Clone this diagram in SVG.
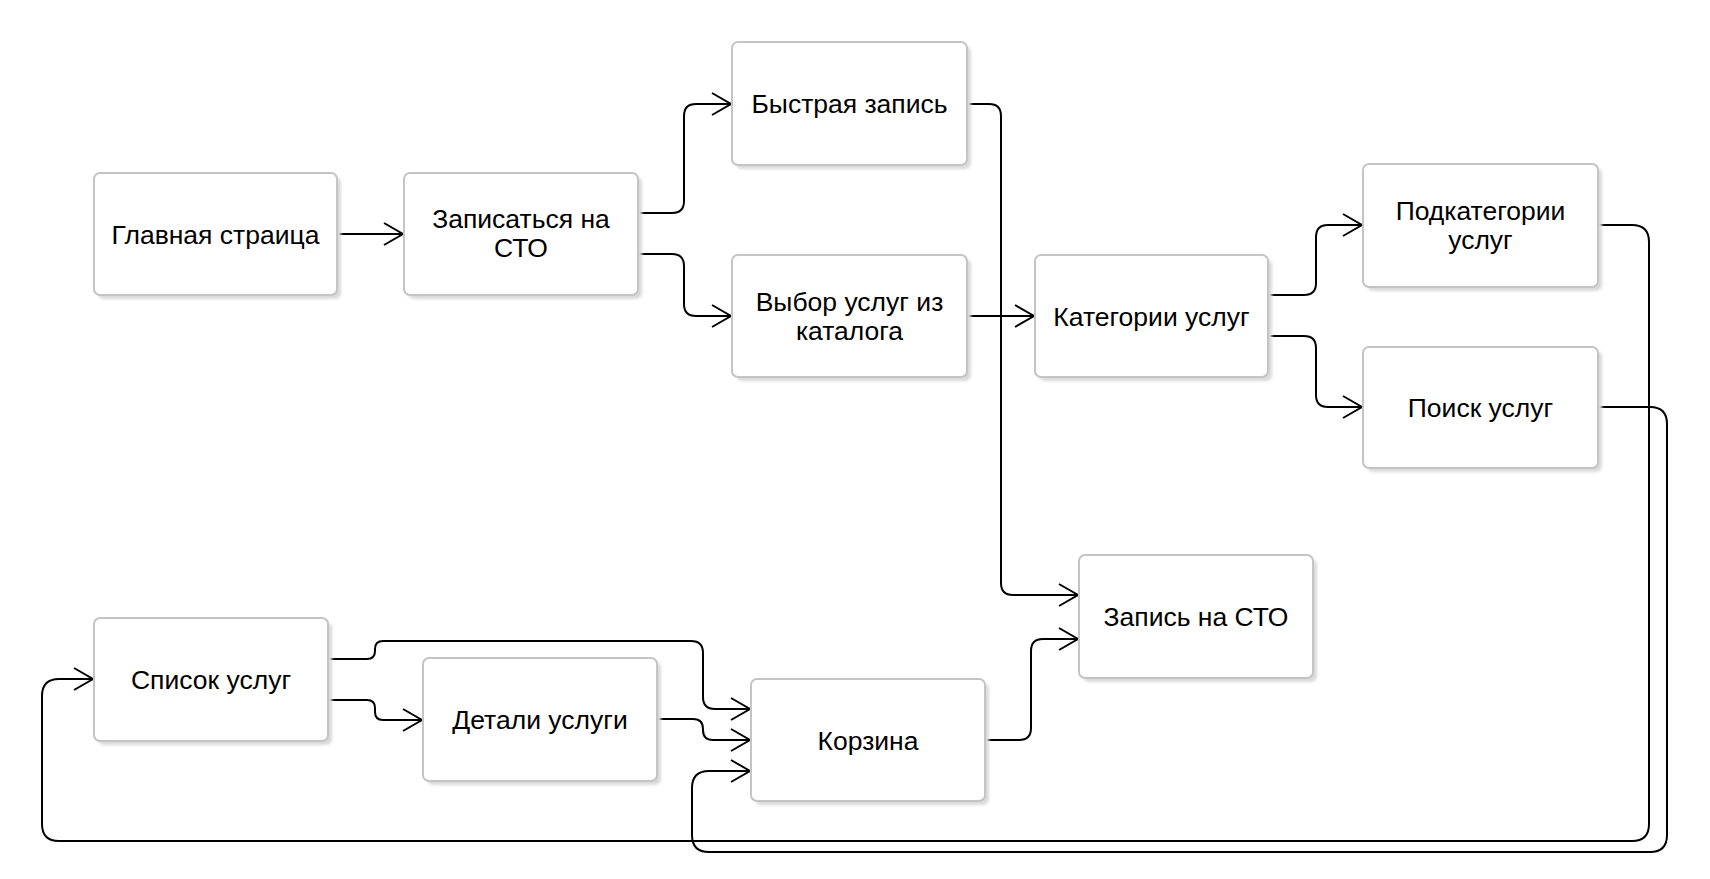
<svg xmlns="http://www.w3.org/2000/svg" width="1710" height="879" viewBox="0 0 1710 879">
<style>
.box{fill:#ffffff;stroke:#c4c4c4;stroke-width:2}
.sh{fill:#d9d9d9;filter:url(#blur)}
.t{font-family:"Liberation Sans",Arial,sans-serif;font-size:26.5px;fill:#000;text-anchor:middle}
.e{fill:none;stroke:#000;stroke-width:2;marker-end:url(#arr)}
</style>
<defs>
<filter id="blur" x="-10%" y="-10%" width="120%" height="120%"><feGaussianBlur stdDeviation="1.5"/></filter>
<marker id="arr" markerUnits="userSpaceOnUse" markerWidth="26" markerHeight="28" viewBox="-2 -2 26 28" refX="19" refY="11" orient="auto">
<path d="M0,0 L19,11 L0,22" fill="none" stroke="#000" stroke-width="2"/>
</marker>
</defs>
<rect width="1710" height="879" fill="#ffffff"/>
<g id="connectors">
<path class="e" d="M337,234 H403"/>
<path class="e" d="M638,213 H672 Q684,213 684,201 V116 Q684,104 696,104 H731"/>
<path class="e" d="M638,254 H672 Q684,254 684,266 V304 Q684,316 696,316 H731"/>
<path class="e" d="M967,316 H1034"/>
<path class="e" d="M967,104 H989 Q1001,104 1001,116 V583 Q1001,595 1013,595 H1078"/>
<path class="e" d="M1268,295 H1304 Q1316,295 1316,283 V237 Q1316,225 1328,225 H1362"/>
<path class="e" d="M1268,336 H1304 Q1316,336 1316,348 V395 Q1316,407 1328,407 H1362"/>
<path class="e" d="M1598,225 H1632 Q1649,225 1649,242 V824 Q1649,841 1632,841 H59 Q42,841 42,824 V696 Q42,679 59,679 H93"/>
<path class="e" d="M1598,407 H1650 Q1667,407 1667,424 V835 Q1667,852 1650,852 H709 Q692,852 692,835 V788 Q692,771 709,771 H750"/>
<path class="e" d="M328,659 H367 Q375,659 375,651 V649 Q375,641 383,641 H691 Q703,641 703,653 V697 Q703,709 715,709 H750"/>
<path class="e" d="M328,700 H367 Q375,700 375,708 V712 Q375,720 383,720 H422"/>
<path class="e" d="M657,719 H693 Q703,719 703,729 V730 Q703,740 713,740 H750"/>
<path class="e" d="M985,740 H1019 Q1031,740 1031,728 V651 Q1031,639 1043,639 H1078"/>
</g>
<g id="n1"><rect class="sh" x="98" y="177" width="243" height="122" rx="6"/><rect class="box" x="94" y="173" width="243" height="122" rx="6"/><text class="t" x="215.5" y="244">Главная страица</text></g>
<g id="n2"><rect class="sh" x="408" y="177" width="234" height="122" rx="6"/><rect class="box" x="404" y="173" width="234" height="122" rx="6"/><text class="t" x="521" y="228">Записаться на</text><text class="t" x="521" y="257">СТО</text></g>
<g id="n3"><rect class="sh" x="736" y="46" width="235" height="123" rx="6"/><rect class="box" x="732" y="42" width="235" height="123" rx="6"/><text class="t" x="849.5" y="113">Быстрая запись</text></g>
<g id="n4"><rect class="sh" x="736" y="259" width="235" height="122" rx="6"/><rect class="box" x="732" y="255" width="235" height="122" rx="6"/><text class="t" x="849.5" y="311">Выбор услуг из</text><text class="t" x="849.5" y="340">каталога</text></g>
<g id="n5"><rect class="sh" x="1039" y="259" width="233" height="122" rx="6"/><rect class="box" x="1035" y="255" width="233" height="122" rx="6"/><text class="t" x="1151.5" y="326">Категории услуг</text></g>
<g id="n6"><rect class="sh" x="1367" y="168" width="235" height="123" rx="6"/><rect class="box" x="1363" y="164" width="235" height="123" rx="6"/><text class="t" x="1480.5" y="220">Подкатегории</text><text class="t" x="1480.5" y="249">услуг</text></g>
<g id="n7"><rect class="sh" x="1367" y="351" width="235" height="121" rx="6"/><rect class="box" x="1363" y="347" width="235" height="121" rx="6"/><text class="t" x="1480.5" y="417">Поиск услуг</text></g>
<g id="n8"><rect class="sh" x="1083" y="559" width="234" height="123" rx="6"/><rect class="box" x="1079" y="555" width="234" height="123" rx="6"/><text class="t" x="1196" y="626">Запись на СТО</text></g>
<g id="n9"><rect class="sh" x="755" y="683" width="234" height="122" rx="6"/><rect class="box" x="751" y="679" width="234" height="122" rx="6"/><text class="t" x="868" y="750">Корзина</text></g>
<g id="n10"><rect class="sh" x="98" y="622" width="234" height="123" rx="6"/><rect class="box" x="94" y="618" width="234" height="123" rx="6"/><text class="t" x="211" y="689">Список услуг</text></g>
<g id="n11"><rect class="sh" x="427" y="662" width="234" height="123" rx="6"/><rect class="box" x="423" y="658" width="234" height="123" rx="6"/><text class="t" x="540" y="729">Детали услуги</text></g>
</svg>
